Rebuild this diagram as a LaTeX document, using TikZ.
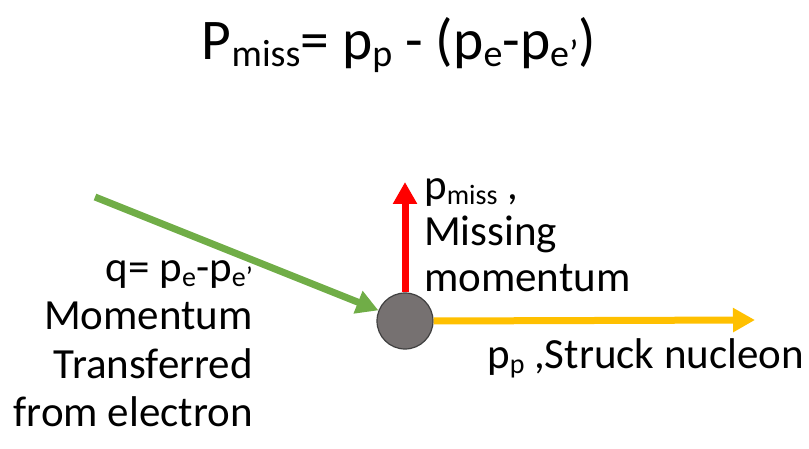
\documentclass[tikz,border=0pt]{standalone}
\usepackage{fontspec}
\setmainfont{Carlito}
\usetikzlibrary{arrows.meta}
\definecolor{qgreen}{HTML}{70AD47}
\definecolor{pyellow}{HTML}{FFC000}
\definecolor{mred}{HTML}{FF0000}
\definecolor{nucgray}{HTML}{767171}
\newcommand\lsub[1]{\raisebox{-0.28ex}{\fontsize{28}{30}\selectfont #1}}
\newcommand\tsub[1]{\raisebox{-0.28ex}{\fontsize{38}{40}\selectfont #1}}
\begin{document}
\begin{tikzpicture}[x=1pt,y=-1pt,
  lbl/.style={inner sep=0pt,font=\fontsize{43}{46}\selectfont},
  vec/.style={line width=7pt,-{Triangle[width=23pt,length=22pt]}}]
\useasboundingbox (0,0) rectangle (809,449);
\node[lbl,font=\fontsize{57.5}{60}\selectfont] (title) at (399,45) {P\tsub{miss}= p\tsub{p} - (p\tsub{e}-p\tsub{e’})};
\node[circle,draw=black!75,line width=1.2pt,fill=nucgray,minimum size=56pt,inner sep=0pt] (n) at (405,321) {};
\coordinate (qs) at (95,197);
\coordinate (mt) at (405,182);
\coordinate (pt) at (755,320);
\draw[vec,qgreen] (qs) -- (n);
\draw[vec,mred] (n.north) -- (mt);
\draw[vec,pyellow] (n.east) -- (pt);
\node[lbl,align=left,anchor=north west] (mlab) at (424,178) {p\lsub{miss} ,\\Missing\\momentum};
\node[lbl,align=right,anchor=north east,font=\fontsize{43}{48.5}\selectfont] (qlab) at (253,260) {q= p\lsub{e}-p\lsub{e’}\\Momentum\\Transferred\\from electron};
\node[lbl,anchor=north west] (plab) at (487,338) {p\lsub{p} ,Struck nucleon};
\end{tikzpicture}
\end{document}
